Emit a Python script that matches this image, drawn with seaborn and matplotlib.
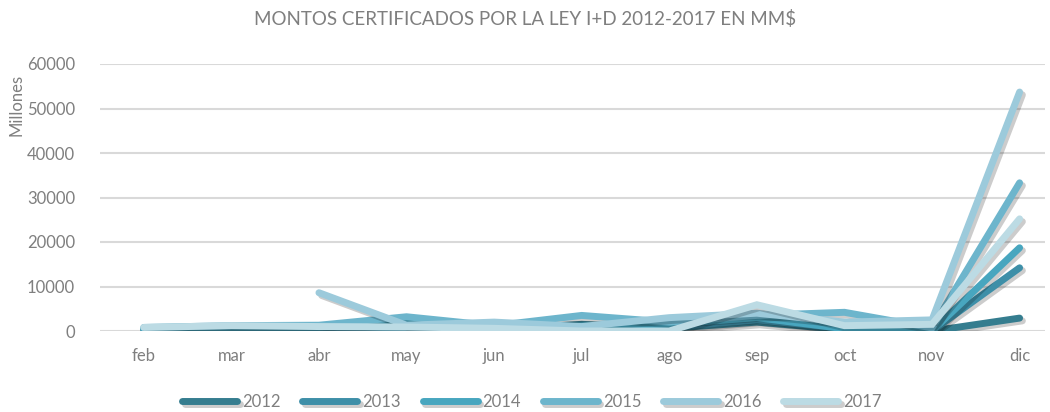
import matplotlib
matplotlib.use("Agg")
import matplotlib.pyplot as plt
import matplotlib.patheffects as pe
import seaborn as sns
import pandas as pd
import numpy as np

months = ["feb", "mar", "abr", "may", "jun", "jul", "ago", "sep", "oct", "nov", "dic"]
years = ["2012", "2013", "2014", "2015", "2016", "2017"]

v2012 = [200, 300, 300, 300, 400, 1500, 600, 2000, 300, 0, 2900]
v2013 = [300, 500, 500, 600, 700, 800, 800, 2500, 600, 0, 14200]
v2014 = [500, 800, 800, 2000, 1000, 1000, 1500, 3000, 500, 0, 18700]
v2015 = [800, 1200, 1300, 3200, 1200, 3500, 2000, 3500, 4200, 700, 33300]
v2016 = [np.nan, np.nan, 8600, 1300, 2000, 1000, 3000, 4000, 2000, 2500, 53700]
v2017 = [800, 1200, 1000, 900, 600, 0, 0, 5900, 1200, 1500, 25200]

colors = ["#357d8f", "#3e8fa8", "#48a6bf", "#6db5cc", "#9ccadb", "#bcdbe4"]

series = [v2012, v2013, v2014, v2015, v2016, v2017]
rows = []
for y, vals in zip(years, series):
    for i, (m, v) in enumerate(zip(months, vals)):
        if not np.isnan(v):
            rows.append({"mes": m, "pos": i, "valor": v, "año": y})
df = pd.DataFrame(rows)

sns.set_theme(style="white")
plt.rcParams["font.family"] = ["Lato", "DejaVu Sans"]

fig = plt.figure(figsize=(10.5, 4.12), dpi=100)
ax = fig.add_axes([100 / 1050, 1 - 331 / 412, 945 / 1050, (331 - 64) / 412])

sns.lineplot(data=df, x="pos", y="valor", hue="año", hue_order=years,
             palette=colors, linewidth=5, estimator=None, sort=True, ax=ax,
             solid_capstyle="round", solid_joinstyle="miter", legend=True)

for line in ax.get_lines():
    line.set_path_effects([pe.SimpleLineShadow(offset=(2, -2), shadow_color="black", alpha=0.2),
                           pe.Normal()])

ax.set_xlim(-0.5, 10.29)
ax.set_ylim(0, 60000)
ax.set_yticks(np.arange(0, 60001, 10000))
ax.set_xticks(range(len(months)))
ax.set_xticklabels(months)
ax.yaxis.grid(True, color="#d9d9d9", linewidth=1.5)
ax.xaxis.grid(False)
for s in ax.spines.values():
    s.set_visible(False)
ax.tick_params(axis="both", colors="#7f7f7f", labelsize=12, length=0)
ax.tick_params(axis="x", pad=12)
ax.tick_params(axis="y", pad=18)
ax.set_xlabel("")
ax.set_ylabel("Millones", color="#7f7f7f", fontsize=12)
ax.yaxis.set_label_coords(-0.08, 0.846)

fig.text(0.5, 0.955, "MONTOS CERTIFICADOS POR LA LEY I+D 2012-2017 EN MM$",
         ha="center", va="center", color="#7f7f7f", fontsize=13.5)

handles, labels = ax.get_legend_handles_labels()
ax.legend(handles, labels, loc="center", bbox_to_anchor=(0.457, -0.265), ncol=6,
          frameon=False, fontsize=12, labelcolor="#7f7f7f", handlelength=3.3,
          columnspacing=1.3, handletextpad=0.3)
for h in ax.get_legend().get_lines():
    h.set_linewidth(5)
    h.set_solid_capstyle("round")

fig.savefig("out.png", dpi=100)
